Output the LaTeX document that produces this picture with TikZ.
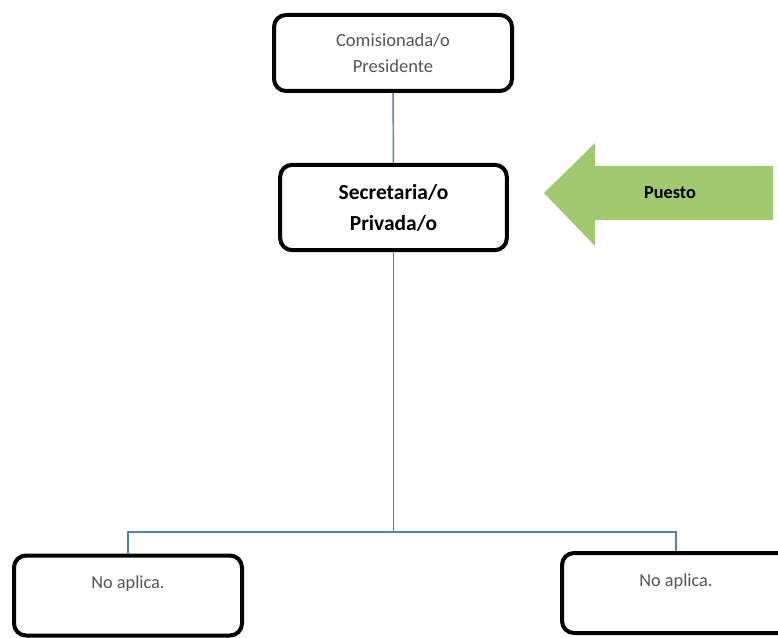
\documentclass[tikz,border=0pt]{standalone}
\usepackage{fontspec}
\setmainfont{Carlito}
\usetikzlibrary{positioning}

\definecolor{linkblue}{RGB}{79,129,189}
\definecolor{puestogreen}{RGB}{160,201,112}
\definecolor{textgray}{RGB}{85,85,85}

\begin{document}
\begin{tikzpicture}[
    x=0.75pt, y=-0.75pt,
    box/.style={rectangle, draw, line width=3pt, rounded corners=9pt, align=center, fill=white},
    chief/.style={box, minimum width=178.5pt, minimum height=57pt, text=textgray, font=\fontsize{13.9}{19.5}\selectfont},
    post/.style={box, minimum width=170pt, minimum height=64pt, font=\fontsize{16.1}{23.2}\selectfont\bfseries},
    empty/.style={box, minimum width=171pt, minimum height=60pt, text=textgray, font=\fontsize{13.7}{19.5}\selectfont},
    link/.style={draw=linkblue, line width=1.1pt}
]
\useasboundingbox (0,0) rectangle (778,638);

% Boxes
\node[chief] (pres) at (393,53) {Comisionada/o\\Presidente};
\node[post] (sec) at (393.5,207.5) {Secretaria/o\\Privada/o};
\node[empty] (na_left) at (128,595.5) {No aplica.\\ \mbox{}};
\node[empty] (na_right) at (676,593) {No aplica.\\ \mbox{}};

% Split point
\coordinate (split) at (sec.south |- 0,532);

% Links
\draw[link] (pres) -- (sec);
\draw[link] (sec) -- (split);
\draw[link] (split) -| (na_left);
\draw[link] (split) -| (na_right);

% Position marker
\fill[puestogreen] (544,193) -- (595,143) -- (595,166) -- (773,166)
    -- (773,220) -- (595,220) -- (595,246) -- cycle;
\node[font=\fontsize{13.7}{16}\selectfont\bfseries] (puesto) at (670,193) {Puesto};

\end{tikzpicture}
\end{document}
